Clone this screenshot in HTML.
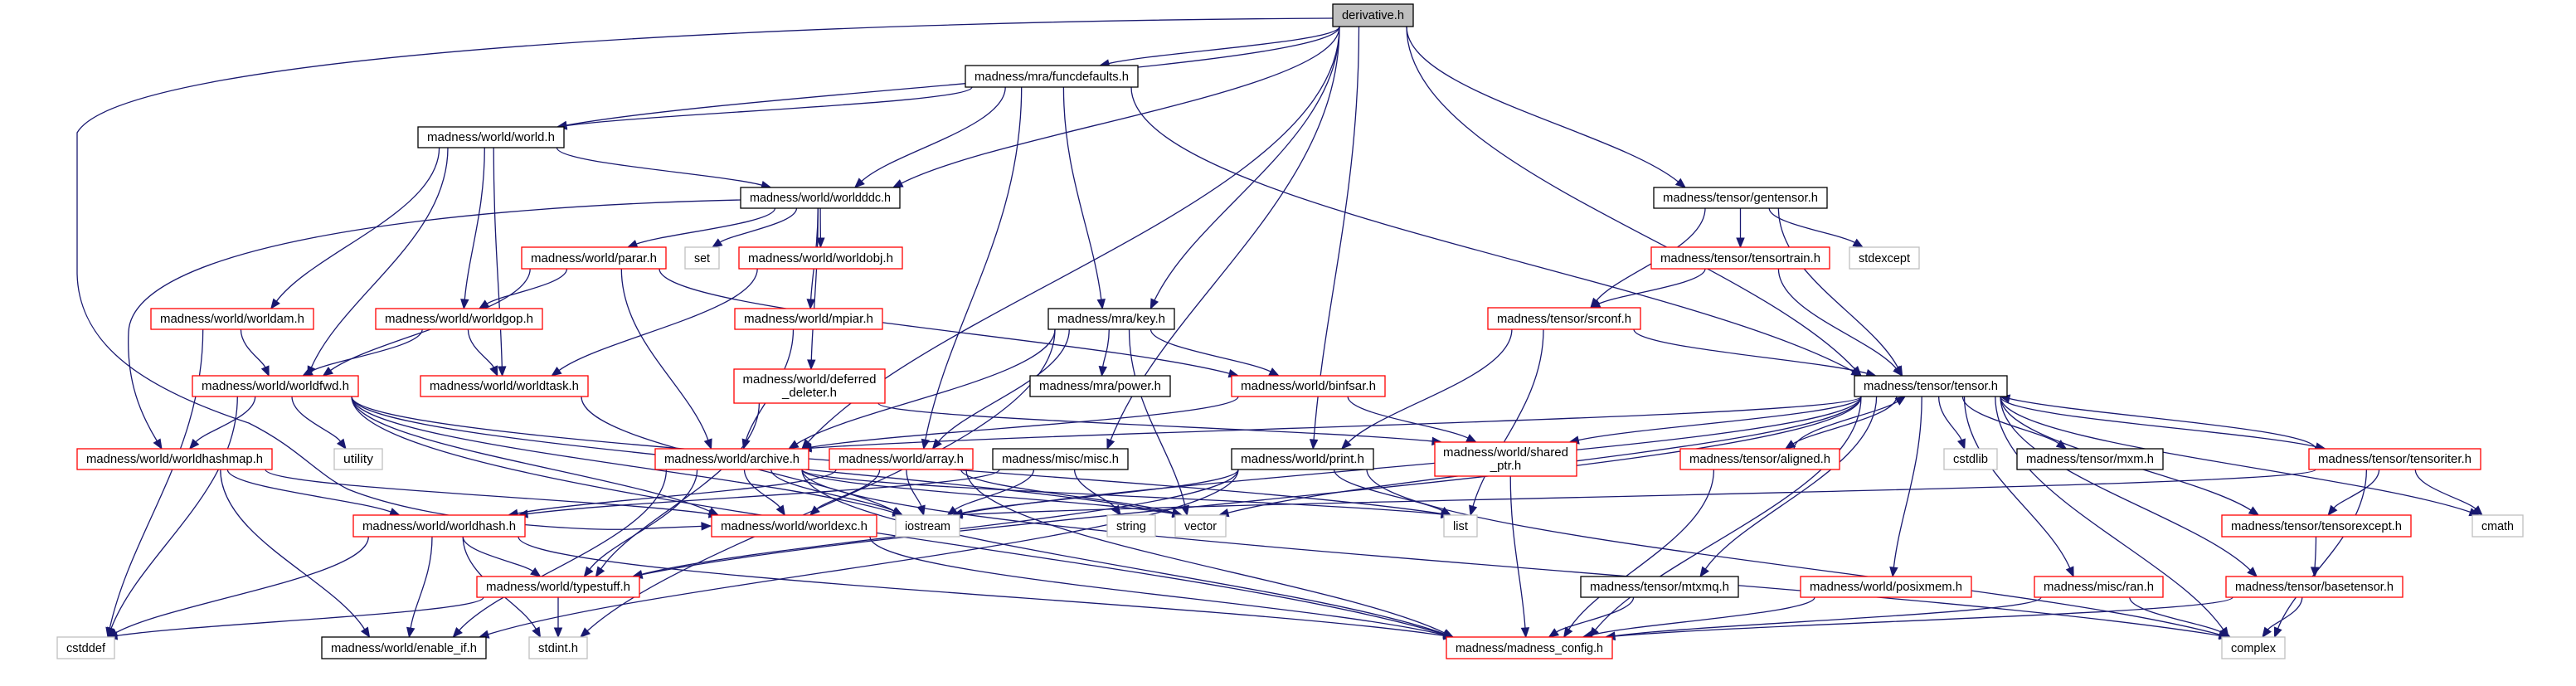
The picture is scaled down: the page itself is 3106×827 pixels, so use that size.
<!DOCTYPE html>
<html><head><meta charset="utf-8"><style>
html,body{margin:0;padding:0;background:#fff;}
svg{display:block;}
text{font-family:"Liberation Sans",sans-serif;font-size:15px;fill:#000;}
</style></head><body>
<svg id="g" width="3106" height="827" viewBox="0 0 3106 827" xmlns="http://www.w3.org/2000/svg">
<g id="edges" fill="none" stroke="#191970" stroke-width="1.3"></g>
<g id="heads" fill="#191970" stroke="#191970"></g>
<g id="nodes" stroke-width="1.3">
<rect x="1607" y="5" width="97" height="27" fill="#bfbfbf" stroke="#000"/><text x="1655.5" y="23" text-anchor="middle">derivative.h</text>
<rect x="1164" y="79" width="208" height="26" fill="#fff" stroke="#000"/><text x="1268" y="97" text-anchor="middle">madness/mra/funcdefaults.h</text>
<rect x="504" y="153" width="176" height="25" fill="#fff" stroke="#000"/><text x="592" y="170" text-anchor="middle">madness/world/world.h</text>
<rect x="893" y="226" width="192" height="25" fill="#fff" stroke="#000"/><text x="989" y="243" text-anchor="middle">madness/world/worldddc.h</text>
<rect x="1994" y="226" width="209" height="25" fill="#fff" stroke="#000"/><text x="2098.5" y="243" text-anchor="middle">madness/tensor/gentensor.h</text>
<rect x="629" y="298" width="174" height="26" fill="#fff" stroke="#f00"/><text x="716" y="316" text-anchor="middle">madness/world/parar.h</text>
<rect x="826" y="298" width="41" height="26" fill="#fff" stroke="#bfbfbf"/><text x="846.5" y="316" text-anchor="middle">set</text>
<rect x="891" y="298" width="197" height="26" fill="#fff" stroke="#f00"/><text x="989.5" y="316" text-anchor="middle">madness/world/worldobj.h</text>
<rect x="1991" y="298" width="215" height="26" fill="#fff" stroke="#f00"/><text x="2098.5" y="316" text-anchor="middle">madness/tensor/tensortrain.h</text>
<rect x="2230" y="298" width="84" height="26" fill="#fff" stroke="#bfbfbf"/><text x="2272" y="316" text-anchor="middle">stdexcept</text>
<rect x="182" y="372" width="196" height="25" fill="#fff" stroke="#f00"/><text x="280" y="389" text-anchor="middle">madness/world/worldam.h</text>
<rect x="453" y="372" width="201" height="25" fill="#fff" stroke="#f00"/><text x="553.5" y="389" text-anchor="middle">madness/world/worldgop.h</text>
<rect x="886" y="372" width="178" height="25" fill="#fff" stroke="#f00"/><text x="975" y="389" text-anchor="middle">madness/world/mpiar.h</text>
<rect x="1264" y="372" width="152" height="25" fill="#fff" stroke="#000"/><text x="1340" y="389" text-anchor="middle">madness/mra/key.h</text>
<rect x="1794" y="371" width="184" height="26" fill="#fff" stroke="#f00"/><text x="1886" y="389" text-anchor="middle">madness/tensor/srconf.h</text>
<rect x="232" y="453" width="200" height="25" fill="#fff" stroke="#f00"/><text x="332" y="470" text-anchor="middle">madness/world/worldfwd.h</text>
<rect x="507" y="453" width="202" height="25" fill="#fff" stroke="#f00"/><text x="608" y="470" text-anchor="middle">madness/world/worldtask.h</text>
<rect x="885" y="445" width="182" height="41" fill="#fff" stroke="#f00"/><text x="976" y="462" text-anchor="middle">madness/world/deferred</text><text x="976" y="478" text-anchor="middle">_deleter.h</text>
<rect x="1242" y="453" width="169" height="25" fill="#fff" stroke="#000"/><text x="1326.5" y="470" text-anchor="middle">madness/mra/power.h</text>
<rect x="1485" y="453" width="185" height="25" fill="#fff" stroke="#f00"/><text x="1577.5" y="470" text-anchor="middle">madness/world/binfsar.h</text>
<rect x="2236" y="453" width="184" height="25" fill="#fff" stroke="#000"/><text x="2328" y="470" text-anchor="middle">madness/tensor/tensor.h</text>
<rect x="93" y="541" width="235" height="25" fill="#fff" stroke="#f00"/><text x="210.5" y="558" text-anchor="middle">madness/world/worldhashmap.h</text>
<rect x="403" y="541" width="58" height="25" fill="#fff" stroke="#bfbfbf"/><text x="432" y="558" text-anchor="middle">utility</text>
<rect x="790" y="541" width="185" height="25" fill="#fff" stroke="#f00"/><text x="882.5" y="558" text-anchor="middle">madness/world/archive.h</text>
<rect x="1000" y="541" width="173" height="25" fill="#fff" stroke="#f00"/><text x="1086.5" y="558" text-anchor="middle">madness/world/array.h</text>
<rect x="1197" y="541" width="163" height="25" fill="#fff" stroke="#000"/><text x="1278.5" y="558" text-anchor="middle">madness/misc/misc.h</text>
<rect x="1485" y="541" width="171" height="25" fill="#fff" stroke="#000"/><text x="1570.5" y="558" text-anchor="middle">madness/world/print.h</text>
<rect x="1730" y="533" width="171" height="41" fill="#fff" stroke="#f00"/><text x="1815.5" y="550" text-anchor="middle">madness/world/shared</text><text x="1815.5" y="566" text-anchor="middle">_ptr.h</text>
<rect x="2026" y="541" width="192" height="25" fill="#fff" stroke="#f00"/><text x="2122" y="558" text-anchor="middle">madness/tensor/aligned.h</text>
<rect x="2344" y="541" width="64" height="25" fill="#fff" stroke="#bfbfbf"/><text x="2376" y="558" text-anchor="middle">cstdlib</text>
<rect x="2432" y="541" width="176" height="25" fill="#fff" stroke="#000"/><text x="2520" y="558" text-anchor="middle">madness/tensor/mxm.h</text>
<rect x="2784" y="541" width="207" height="25" fill="#fff" stroke="#f00"/><text x="2887.5" y="558" text-anchor="middle">madness/tensor/tensoriter.h</text>
<rect x="426" y="621" width="207" height="26" fill="#fff" stroke="#f00"/><text x="529.5" y="639" text-anchor="middle">madness/world/worldhash.h</text>
<rect x="858" y="621" width="199" height="26" fill="#fff" stroke="#f00"/><text x="957.5" y="639" text-anchor="middle">madness/world/worldexc.h</text>
<rect x="1080" y="621" width="77" height="26" fill="#fff" stroke="#bfbfbf"/><text x="1118.5" y="639" text-anchor="middle">iostream</text>
<rect x="1335" y="621" width="58" height="26" fill="#fff" stroke="#bfbfbf"/><text x="1364" y="639" text-anchor="middle">string</text>
<rect x="1417" y="621" width="61" height="26" fill="#fff" stroke="#bfbfbf"/><text x="1447.5" y="639" text-anchor="middle">vector</text>
<rect x="1741" y="621" width="40" height="26" fill="#fff" stroke="#bfbfbf"/><text x="1761" y="639" text-anchor="middle">list</text>
<rect x="2679" y="621" width="228" height="26" fill="#fff" stroke="#f00"/><text x="2793" y="639" text-anchor="middle">madness/tensor/tensorexcept.h</text>
<rect x="2981" y="621" width="61" height="26" fill="#fff" stroke="#bfbfbf"/><text x="3011.5" y="639" text-anchor="middle">cmath</text>
<rect x="575" y="695" width="196" height="25" fill="#fff" stroke="#f00"/><text x="673" y="712" text-anchor="middle">madness/world/typestuff.h</text>
<rect x="1906" y="695" width="190" height="25" fill="#fff" stroke="#000"/><text x="2001" y="712" text-anchor="middle">madness/tensor/mtxmq.h</text>
<rect x="2171" y="695" width="206" height="25" fill="#fff" stroke="#f00"/><text x="2274" y="712" text-anchor="middle">madness/world/posixmem.h</text>
<rect x="2453" y="695" width="155" height="25" fill="#fff" stroke="#f00"/><text x="2530.5" y="712" text-anchor="middle">madness/misc/ran.h</text>
<rect x="2684" y="695" width="213" height="25" fill="#fff" stroke="#f00"/><text x="2790.5" y="712" text-anchor="middle">madness/tensor/basetensor.h</text>
<rect x="69" y="768" width="69" height="26" fill="#fff" stroke="#bfbfbf"/><text x="103.5" y="786" text-anchor="middle">cstddef</text>
<rect x="388" y="768" width="198" height="26" fill="#fff" stroke="#000"/><text x="487" y="786" text-anchor="middle">madness/world/enable_if.h</text>
<rect x="638" y="768" width="70" height="26" fill="#fff" stroke="#bfbfbf"/><text x="673" y="786" text-anchor="middle">stdint.h</text>
<rect x="1744" y="768" width="200" height="26" fill="#fff" stroke="#f00"/><text x="1844" y="786" text-anchor="middle">madness/madness_config.h</text>
<rect x="2679" y="768" width="76" height="26" fill="#fff" stroke="#bfbfbf"/><text x="2717" y="786" text-anchor="middle">complex</text>
</g>
</svg>
<script>
(function(){
var ns="http://www.w3.org/2000/svg";
var rects=document.querySelectorAll("#nodes rect");
rects.forEach(function(r){var w=+r.getAttribute("width"),h=+r.getAttribute("height");var t=r.nextElementSibling;
 if(h<30&&t&&t.tagName=="text"){t.setAttribute("textLength",Math.max(10,w-22));t.setAttribute("lengthAdjust","spacingAndGlyphs");}});
var N={D:[1607,5,1704,32],fd:[1164,79,1372,105],world:[504,153,680,178],ddc:[893,226,1085,251],gent:[1994,226,2203,251],
parar:[629,298,803,324],set:[826,298,867,324],wobj:[891,298,1088,324],ttrain:[1991,298,2206,324],stdexc:[2230,298,2314,324],
wam:[182,372,378,397],wgop:[453,372,654,397],mpiar:[886,372,1064,397],key:[1264,372,1416,397],srconf:[1794,371,1978,397],
wfwd:[232,453,432,478],wtask:[507,453,709,478],defdel:[885,445,1067,486],power:[1242,453,1411,478],binf:[1485,453,1670,478],tensor:[2236,453,2420,478],
hmap:[93,541,328,566],util:[403,541,461,566],arch:[790,541,975,566],arr:[1000,541,1173,566],misc:[1197,541,1360,566],print:[1485,541,1656,566],
shptr:[1730,533,1901,574],aligned:[2026,541,2218,566],cstdlib:[2344,541,2408,566],mxm:[2432,541,2608,566],titer:[2784,541,2991,566],
whash:[426,621,633,647],wexc:[858,621,1057,647],iostream:[1080,621,1157,647],string:[1335,621,1393,647],vector:[1417,621,1478,647],list:[1741,621,1781,647],
texc:[2679,621,2907,647],cmath:[2981,621,3042,647],typest:[575,695,771,720],mtxmq:[1906,695,2096,720],posix:[2171,695,2377,720],ran:[2453,695,2608,720],
baset:[2684,695,2897,720],cstddef:[69,768,138,794],enif:[388,768,586,794],stdint:[638,768,708,794],config:[1744,768,1944,794],complex:[2679,768,2755,794]};
var E="D world,D ddc,D fd,D key,D gent,D tensor,D misc,D print,D arch,fd world,fd ddc,fd key,fd arr,fd tensor,world ddc,world wam,world wfwd,world wgop,world wtask,ddc parar,ddc set,ddc wobj,ddc mpiar,ddc defdel,parar wgop,parar wfwd,parar arch,parar binf,wobj wtask,wam wfwd,wam cstddef,wgop wfwd,wgop wtask,mpiar arch,key power,key binf,key vector,key arr,key arch,key stdint,defdel typest,defdel shptr,wfwd cstddef,wfwd hmap,wfwd util,wfwd iostream,wfwd vector,wfwd config,wfwd list,wfwd wexc,wtask iostream,hmap whash,hmap enif,hmap wexc,whash cstddef,whash enif,whash stdint,whash typest,whash config,typest cstddef,typest stdint,arch wexc,arch iostream,arch vector,arch typest,arch enif,arch list,arch config,arch complex,arr wexc,arr iostream,arr vector,arr whash,arr config,misc iostream,misc string,misc whash,print iostream,print list,print typest,print enif,print complex,wexc config,binf arch,binf shptr,gent srconf,gent ttrain,gent stdexc,gent tensor,ttrain srconf,ttrain tensor,srconf tensor,srconf list,srconf print,tensor arch,tensor shptr,tensor aligned,tensor cstdlib,tensor mxm,tensor titer,tensor texc,tensor cmath,tensor complex,tensor baset,tensor ran,tensor posix,tensor mtxmq,tensor config,tensor vector,tensor iostream,tensor typest,aligned tensor,aligned config,titer tensor,titer texc,titer cmath,titer complex,titer iostream,texc baset,baset complex,baset config,ran complex,ran config,posix config,mtxmq config,shptr config".split(",");
var eg=document.getElementById("edges"),hg=document.getElementById("heads");
function cl(v,a,b){return Math.max(a,Math.min(b,v));}
function draw(d,c2x,c2y,tx,ty){var dx=tx-c2x,dd=ty-c2y,L=Math.sqrt(dx*dx+dd*dd)||1;dx/=L;dd/=L;
 var bx=tx-dx*11,by=ty-dd*11;var path=document.createElementNS(ns,"path");
 path.setAttribute("d",d+" "+bx+","+by);eg.appendChild(path);
 var px=-dd,py=dx;var pg=document.createElementNS(ns,"polygon");
 pg.setAttribute("points",tx+","+ty+" "+(bx+px*4.5)+","+(by+py*4.5)+" "+(bx-px*4.5)+","+(by-py*4.5));hg.appendChild(pg);}
E.forEach(function(p){var a=p.split(" "),s=N[a[0]],t=N[a[1]];if(!s||!t)return;
var scx=(s[0]+s[2])/2,tcx=(t[0]+t[2])/2,sy,ty;
if(t[1]>=s[3]-2){sy=s[3];ty=t[1];}else{sy=s[1];ty=t[3];}
var sx=cl(scx+(tcx-scx)*0.2,s[0]+8,s[2]-8),tx=cl(tcx+(scx-tcx)*0.15,t[0]+8,t[2]-8);
var dy=ty-sy;var c1x=sx,c1y=sy+dy*0.4,c2x=tx+(sx-tx)*0.25,c2y=ty-dy*0.35;
draw("M"+sx+","+sy+" C"+c1x+","+c1y+" "+c2x+","+c2y,c2x,c2y,tx,ty);});
draw("M1607,22 C1000,25 150,60 93,160 L93,330 C95,420 180,470 300,510 C360,540 380,570 420,590 C520,630 700,640 760,638 C780,637 830,635",830,635,857,634);
draw("M893,241 C500,250 160,300 155,400 C152,460 170,500",170,500,195,541);
})();
</script>
</body></html>
